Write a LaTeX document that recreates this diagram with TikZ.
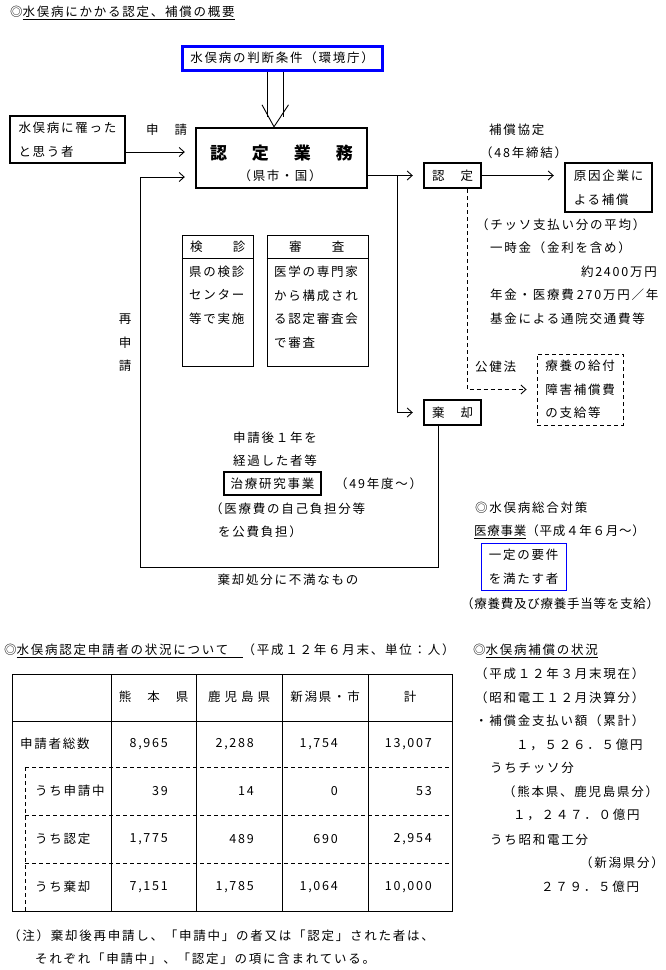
\documentclass[tikz,border=0pt]{standalone}
\usepackage{fontspec}
\setmainfont{Noto Sans CJK JP}[LetterSpace=14]
\usetikzlibrary{arrows.meta,calc}
\definecolor{bleucadre}{RGB}{0,0,255}
\begin{document}
\begin{tikzpicture}[x=1pt, y=-1pt, font=\fontsize{12.5}{23.5}\selectfont,
		txt/.style={inner sep=0pt, anchor=west},
		serre/.style={font=\fontsize{12.5}{23.5}\selectfont\addfontfeature{LetterSpace=6}},
		boite/.style={draw, line width=2.4pt, inner sep=0pt, align=left},
		fine/.style={draw, line width=0.9pt, inner sep=0pt, align=left},
		fleche/.style={line width=0.9pt, -{Straight Barb[length=5pt,width=9pt]}, shorten >=10pt},
		tiret/.style={dash pattern=on 4pt off 3pt}]
			\path[use as bounding box, fill=white] (0,0) rectangle (666,970);
			\node[txt] (titre) at (10,13) {◎\underline{水俣病にかかる認定、補償の概要}};
			\node[boite, line width=3pt, draw=bleucadre, minimum width=200pt, minimum height=24pt] (crit) at (282,58) {水俣病の判断条件（環境庁）};
			\node[boite, minimum width=115pt, minimum height=47pt] (patient) at (67.5,139.5) {水俣病に罹った\\と思う者};
			\node[txt] (apply) at (146,130) {申　請};
			\node[boite, minimum width=171pt, minimum height=60pt] (work) at (281.5,158) {};
			\node[inner sep=0pt, font=\fontsize{17}{20}\selectfont\bfseries] (worktitle) at (281.5,153) {認\hspace{25pt}定\hspace{25pt}業\hspace{25pt}務};
			\node[inner sep=0pt] (workgov) at (280,176) {（県\hspace{1.5pt}市\hspace{1.5pt}・\hspace{1.5pt}国）};
			\node[fine, minimum width=71pt, minimum height=131pt] (kenshin) at (217.5,300.5) {};
			\draw[line width=0.9pt] ([yshift=-24pt]kenshin.north west) -- ([yshift=-24pt]kenshin.north east);
			\node[txt] (kenshinhd) at (190,247) {検　　診};
			\node[txt, align=left] (kenshinbd) at (189,295) {県の検診\\センター\\等で実施};
			\node[fine, minimum width=101pt, minimum height=131pt] (shinsa) at (317.5,300.5) {};
			\draw[line width=0.9pt] ([yshift=-24pt]shinsa.north west) -- ([yshift=-24pt]shinsa.north east);
			\node[txt] (shinsahd) at (289,247) {審　　査};
			\node[txt, align=left] (shinsabd) at (274,307) {医学の専門家\\から構成され\\る認定審査会\\で審査};
			\node[inner sep=0pt, align=center] (reapply) at (125,343) {再\\申\\請};
			\node[boite, minimum width=57pt, minimum height=25pt] (approve) at (452.5,175.5) {認　定};
			\node[boite, minimum width=87pt, minimum height=49pt] (company) at (608.5,187.5) {原因企業に\\よる補償};
			\node[txt] (pact) at (489,130) {補償協定};
			\node[txt] (pact48) at (480,153) {（48年締結）};
			\node[boite, minimum width=57pt, minimum height=25pt] (reject) at (452.5,412.5) {棄　却};
			\node[fine, tiret, minimum width=86pt, minimum height=71pt] (welfare) at (580,389.5) {療養の給付\\障害補償費\\の支給等};
			\node[txt] (avg) at (476,225) {（チッソ支払い分の平均）};
			\node[txt] (lump) at (490,248) {一時金（金利を含め）};
			\node[inner sep=0pt, anchor=east] (lumpsum) at (657,272) {約2400万円};
			\node[txt] (pension) at (490,295) {年金・医療費\hspace{3pt}270万円／年};
			\node[txt] (fund) at (490,319) {基金による通院交通費等};
			\node[txt] (kouken) at (475,367) {公健法};
			\node[txt] (oneyear) at (233,438) {申請後１年を};
			\node[txt] (elapsed) at (233,461) {経過した者等};
			\node[boite, minimum width=97pt, minimum height=23pt] (research) at (272.5,483.5) {治療研究事業};
			\node[txt] (since49) at (335,484) {（49年度～）};
			\node[txt] (selfpay) at (210,509) {（医療費の自己負担分等};
			\node[txt] (public) at (218,532) {を公費負担）};
			\node[inner sep=0pt] (discontent) at (288,580) {棄却処分に不満なもの};
			\node[txt] (sogo) at (475,508) {◎水俣病総合対策};
			\node[txt, serre] (iryo) at (474,532) {\underline{医療事業}（平成４年６月～）};
			\node[fine, draw=bleucadre, minimum width=85pt, minimum height=47pt] (conditions) at (523.5,566.5) {一定の要件\\を満たす者};
			\node[txt, serre] (benefit) at (461,604) {（療養費及び療養手当等を支給）};
			\draw[line width=0.9pt] ([xshift=-15pt]crit.south) -- ++(0,45);
			\draw[line width=0.9pt] ([xshift=1pt]crit.south) -- ++(0,45);
			\draw[line width=0.9pt] ($(work.north)+(-19.5,-22)$) -- ($(work.north)+(-7.5,0)$) -- ($(work.north)+(7,-22)$);
			\coordinate (appl) at ([yshift=-12.5pt]patient.east);
			\draw[fleche] (appl) -- (appl -| work.west);
			\coordinate (loopbl) at (140,567);
			\draw[fleche] ([xshift=-14.5pt]reject.south) |- (loopbl) |- ([yshift=-19pt]work.west);
			\draw[fleche] (work.east |- approve.west) -- (approve.west);
			\coordinate (brk) at ($(work.east |- approve.west)+(29,0)$);
			\draw[fleche] (brk) |- (reject.west);
			\draw[fleche] (approve.east) -- (approve.east -| company.west);
			\draw[fleche, tiret] ([xshift=14.5pt]approve.south) |- (welfare.west);
			\node[txt] (titre2) at (4,651) {◎\underline{水俣病認定申請者の状況について　}（平成１２年６月末、単位：人）};
			\draw[line width=0.9pt] (12,674) rectangle (452,911);
			\foreach \cx in {111,196,282,368}
				\draw[line width=0.9pt] (\cx,674) -- (\cx,911);
			\draw[line width=0.9pt] (12,721) -- (452,721);
			\foreach \ry in {767,815,863}
				\draw[tiret, line width=0.9pt] (25,\ry) -- (452,\ry);
			\draw[tiret, line width=0.9pt] (25,767) -- (25,911);
			\foreach \cx/\hd [count=\i] in {153.5/熊　本　県, 239/{鹿\hspace{4pt}児\hspace{4pt}島\hspace{4pt}県}, 325/新潟県・市, 410/計}
				\node[inner sep=0pt] (hd\i) at (\cx,697) {\hd};
			\node[txt] (rowtot) at (20,744) {申請者総数};
			\node[txt] (rowpend) at (35,791) {うち申請中};
			\node[txt] (rowappr) at (35,839) {うち認定};
			\node[txt] (rowrej) at (35,887) {うち棄却};
			\foreach \cx/\v [count=\i] in {168/{8,965}, 254/{2,288}, 338/{1,754}, 432/{13,007}}
				\node[inner sep=0pt, anchor=east] (tot\i) at (\cx,744) {\v};
			\foreach \cx/\v [count=\i] in {168/39, 254/14, 338/0, 432/53}
				\node[inner sep=0pt, anchor=east] (pend\i) at (\cx,791) {\v};
			\foreach \cx/\v [count=\i] in {168/{1,775}, 254/489, 338/690, 432/{2,954}}
				\node[inner sep=0pt, anchor=east] (appr\i) at (\cx,839) {\v};
			\foreach \cx/\v [count=\i] in {168/{7,151}, 254/{1,785}, 338/{1,064}, 432/{10,000}}
				\node[inner sep=0pt, anchor=east] (rej\i) at (\cx,887) {\v};
			\node[txt] (titre3) at (473,651) {◎\underline{水俣病補償の状況}};
			\node[txt] (asof) at (475,674) {（平成１２年３月末現在）};
			\node[txt] (showa) at (475,698) {（昭和電工１２月決算分）};
			\node[txt] (paid) at (475,721) {・補償金支払い額（累計）};
			\node[txt] (paidsum) at (516,745) {１，５２６．５億円};
			\node[txt] (chisso) at (490,768) {うちチッソ分};
			\node[txt] (kk) at (503,792) {（熊本県、鹿児島県分）};
			\node[txt] (chissosum) at (513,815) {１，２４７．０億円};
			\node[txt] (sdk) at (490,840) {うち昭和電工分};
			\node[txt] (niigata) at (580,863) {（新潟県分）};
			\node[txt] (sdksum) at (541,887) {２７９．５億円};
			\node[txt] (note1) at (8,936) {（注）棄却後再申請し、「申請中」の者又は「認定」された者は、};
			\node[txt] (note2) at (35,959) {それぞれ「申請中」、「認定」の項に含まれている。};
		\end{tikzpicture}
\end{document}
